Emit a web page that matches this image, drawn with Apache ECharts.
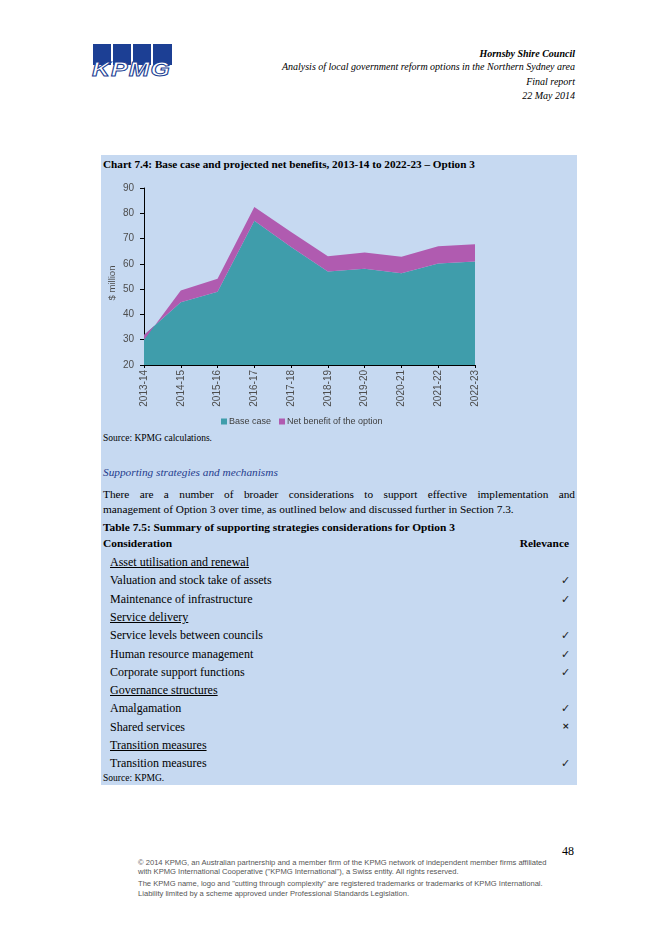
<!DOCTYPE html>
<html><head><meta charset="utf-8">
<script src="https://cdn.jsdelivr.net/npm/echarts@6/dist/echarts.min.js"></script>
<style>
body{margin:0;background:#fff;}
#page{position:relative;width:656px;height:928px;overflow:hidden;background:#fff;font-family:"Liberation Serif","Times New Roman",serif;color:#000;}
.t{position:absolute;white-space:nowrap;line-height:1;}
.hdr{right:81px;font-style:italic;font-size:10px;}
#panel{position:absolute;left:101px;top:155px;width:476px;height:630px;background:#c6d9f1;}
#chart{position:absolute;left:0;top:0;width:656px;height:928px;z-index:2;}
.row{left:110px;font-size:12px;}
.u{text-decoration:underline;}
.chk{position:absolute;left:561px;font-family:"DejaVu Sans",sans-serif;font-size:11px;line-height:1;color:#222;}
.foot{left:138px;font-family:"Liberation Sans",Arial,sans-serif;font-size:7.6px;color:#555;}
.logo-b{position:absolute;top:44px;height:21px;width:18px;background:#1c3f94;}
</style></head>
<body><div id="page">
<div class="logo-b" style="left:93px"></div>
<div class="logo-b" style="left:113px"></div>
<div class="logo-b" style="left:133px"></div>
<div class="logo-b" style="left:153px;width:19px"></div>
<div class="t" style="left:92px;top:58px;font-family:'Liberation Sans',Arial,sans-serif;font-weight:bold;font-style:italic;font-size:21px;color:#fff;-webkit-text-stroke:1px #1c3f94;letter-spacing:1px;transform:scaleX(1.18);transform-origin:0 0;">KPMG</div>

<div class="t hdr" style="top:49px;font-weight:bold;">Hornsby Shire Council</div>
<div class="t hdr" style="top:62px;">Analysis of local government reform options in the Northern Sydney area</div>
<div class="t hdr" style="top:77px;">Final report</div>
<div class="t hdr" style="top:91px;">22 May 2014</div>

<div id="panel"></div>
<div class="t" style="left:103px;top:159px;font-weight:bold;font-size:11.2px;">Chart 7.4: Base case and projected net benefits, 2013-14 to 2022-23 – Option 3</div>
<div class="t" style="left:103px;top:434px;font-size:9.5px;">Source: KPMG calculations.</div>
<div class="t" style="left:103px;top:467px;font-size:11.3px;font-style:italic;color:#1f3b8d;">Supporting strategies and mechanisms</div>
<div class="t" style="left:103px;top:489px;width:472px;font-size:11.3px;text-align:justify;text-align-last:justify;white-space:normal;">There are a number of broader considerations to support effective implementation and</div>
<div class="t" style="left:103px;top:504px;font-size:11.3px;">management of Option 3 over time, as outlined below and discussed further in Section 7.3.</div>
<div class="t" style="left:103px;top:522px;font-size:11.4px;font-weight:bold;">Table 7.5: Summary of supporting strategies considerations for Option 3</div>
<div class="t" style="left:103px;top:538px;font-size:11.4px;font-weight:bold;">Consideration</div>
<div class="t" style="right:87px;top:538px;font-size:11.4px;font-weight:bold;">Relevance</div>
<div id="rows"></div>
<div class="t" style="left:103px;top:774px;font-size:9.5px;">Source: KPMG.</div>

<div class="t" style="left:562px;top:845px;font-size:12px;">48</div>
<div class="t foot" style="top:859px;">© 2014 KPMG, an Australian partnership and a member firm of the KPMG network of independent member firms affiliated</div>
<div class="t foot" style="top:868px;">with KPMG International Cooperative ("KPMG International"), a Swiss entity. All rights reserved.</div>
<div class="t foot" style="top:880px;">The KPMG name, logo and "cutting through complexity" are registered trademarks or trademarks of KPMG International.</div>
<div class="t foot" style="top:890px;">Liability limited by a scheme approved under Professional Standards Legislation.</div>

<div id="chart"></div>
</div>
<script>
// Chart data
var categories = ['2013-14','2014-15','2015-16','2016-17','2017-18','2018-19','2019-20','2020-21','2021-22','2022-23'];
var baseCase = [31.9, 44.8, 49.0, 77.0, 66.7, 57.0, 58.1, 56.3, 60.1, 60.9];
var netBenefit = [-2.0, 4.7, 5.1, 5.5, 5.9, 6.0, 6.4, 6.5, 6.9, 6.9];
var seriesNames = ['Base case', 'Net benefit of the option'];

// Table content
var tableItems = ['Asset utilisation and renewal','Valuation and stock take of assets','Maintenance of infrastructure','Service delivery','Service levels between councils','Human resource management','Corporate support functions','Governance structures','Amalgamation','Shared services','Transition measures','Transition measures'];
var tableHeading = [true,false,false,true,false,false,false,true,false,false,true,false];
var tableRelevance = ['','✓','✓','','✓','✓','✓','','✓','×','','✓'];

(function () {
  var rowsEl = document.getElementById('rows');
  var html = '';
  for (var i = 0; i < tableItems.length; i++) {
    var y = 556 + i * 18.3;
    html += '<div class="t row' + (tableHeading[i] ? ' u' : '') + '" style="top:' + y.toFixed(1) + 'px">' + tableItems[i] + '</div>';
    if (tableRelevance[i]) {
      var isX = tableRelevance[i] === '×';
      html += '<div class="chk" style="top:' + (y + 1).toFixed(1) + 'px;' + (isX ? 'font-weight:bold;font-size:9px;left:562px;' : '') + '">' + tableRelevance[i] + '</div>';
    }
  }
  rowsEl.innerHTML = html;
})();

var chart = echarts.init(document.getElementById('chart'), null, {renderer: 'canvas'});
var axisFont = {fontFamily: 'Liberation Sans, Arial, sans-serif', fontSize: 10, color: '#4d4d4d'};
chart.setOption({
  backgroundColor: 'transparent',
  animation: false,
  color: ['#3f9dab', '#b05bb0'],
  grid: {left: 144, top: 188, width: 331, height: 177, containLabel: false},
  legend: {
    left: 216, top: 412, itemWidth: 6, itemHeight: 6, itemGap: 8, icon: 'rect',
    textStyle: {fontFamily: 'Liberation Sans, Arial, sans-serif', fontSize: 9, color: '#404040', padding: [0,0,0,-3]},
    data: seriesNames
  },
  xAxis: {
    type: 'category', data: categories, boundaryGap: false,
    axisLine: {lineStyle: {color: '#000', width: 1}},
    axisTick: {show: true, length: 3, interval: 0, lineStyle: {color: '#000'}},
    axisLabel: Object.assign({rotate: 90, interval: 0, margin: 5}, axisFont),
    splitLine: {show: false}
  },
  yAxis: {
    type: 'value', min: 20, max: 90, interval: 10,
    axisLine: {show: true, lineStyle: {color: '#000', width: 1}},
    axisTick: {show: true, length: 4, lineStyle: {color: '#000'}},
    axisLabel: Object.assign({margin: 10}, axisFont),
    splitLine: {show: false}
  },
  graphic: [{
    type: 'text', x: 112, y: 283, rotation: Math.PI / 2,
    style: {text: '$ million', fill: '#4d4d4d', font: '9.5px "Liberation Sans", Arial, sans-serif', align: 'center', verticalAlign: 'middle'}
  }],
  series: [
    {name: seriesNames[0], type: 'line', stack: 'total', stackStrategy: 'all', data: baseCase,
     showSymbol: false, symbol: 'none', lineStyle: {width: 0}, areaStyle: {opacity: 1}, z: 2},
    {name: seriesNames[1], type: 'line', stack: 'total', stackStrategy: 'all', data: netBenefit,
     showSymbol: false, symbol: 'none', lineStyle: {width: 0}, areaStyle: {opacity: 1}, z: 3}
  ]
});
</script>
</body></html>
